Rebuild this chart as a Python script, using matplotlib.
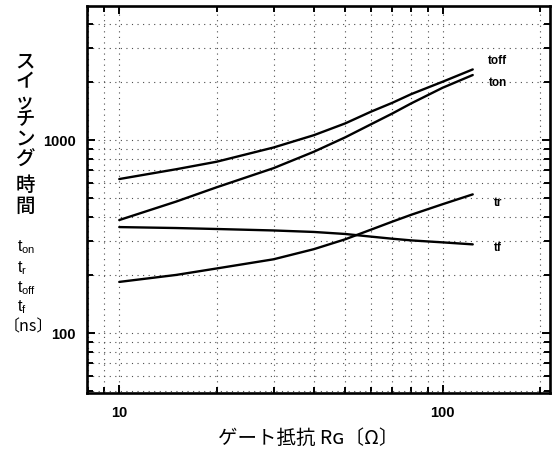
import numpy as np
import matplotlib
matplotlib.use("Agg")
import matplotlib.pyplot as plt
from matplotlib.ticker import LogLocator, FixedLocator, NullFormatter, FixedFormatter

plt.rcParams['font.family'] = ['Liberation Sans', 'Noto Sans CJK JP', 'DejaVu Sans']
plt.rcParams['mathtext.fontset'] = 'custom'
plt.rcParams['mathtext.rm'] = 'Liberation Sans'

# Data (gate resistance in ohm, times in ns)
rg = [10, 15, 20, 30, 40, 50, 60, 70, 80, 100, 124]
t_off = [628, 706, 772, 915, 1060, 1220, 1402, 1561, 1730, 2005, 2323]
t_on = [385, 480, 569, 715, 870, 1033, 1206, 1374, 1549, 1866, 2173]
t_r = [184, 200, 216, 241, 272, 306, 343, 378, 410, 465, 523]
t_f = [354, 350, 346, 340, 334, 326, 316, 308, 302, 295, 288]

series_names = ["toff", "ton", "tr", "tf"]
label_pos_x = 148
label_pos_y = [2576, 1967, 470, 275]

x_ticks = [10, 100]
x_ticklabels = ["10", "100"]
y_ticks = [100, 1000]
y_ticklabels = ["100", "1000"]

fig = plt.figure(figsize=(5.53, 4.54), dpi=100)
ax = fig.add_axes([86.7/553, 1-393.3/454, (550-86.7)/553, (393.3-5.7)/454])

for ys in (t_off, t_on, t_r, t_f):
    ax.plot(rg, ys, color='black', lw=1.7, solid_capstyle='round', solid_joinstyle='round')

ax.set_xscale('log')
ax.set_yscale('log')
ax.set_xlim(7.93, 215)
ax.set_ylim(48.7, 4970)

ax.xaxis.set_major_locator(FixedLocator(x_ticks))
ax.xaxis.set_major_formatter(FixedFormatter(x_ticklabels))
ax.xaxis.set_minor_locator(LogLocator(base=10, subs=np.arange(2, 10)))
ax.xaxis.set_minor_formatter(NullFormatter())
ax.yaxis.set_major_locator(FixedLocator(y_ticks))
ax.yaxis.set_major_formatter(FixedFormatter(y_ticklabels))
ax.yaxis.set_minor_locator(LogLocator(base=10, subs=np.arange(2, 10)))
ax.yaxis.set_minor_formatter(NullFormatter())

ax.grid(True, which='both', linestyle=(0, (1, 4)), color='0.3', linewidth=0.8)
ax.tick_params(which='both', direction='in', top=True, right=True, width=1.4, color='black')
ax.tick_params(which='major', length=6)
ax.tick_params(which='minor', length=4.5)
ax.tick_params(axis='x', which='major', labelsize=10.5, pad=9)
ax.tick_params(axis='y', which='major', labelsize=10.5, pad=8)
for lab in ax.get_xticklabels() + ax.get_yticklabels():
    lab.set_fontweight('bold')
for sp in ax.spines.values():
    sp.set_linewidth(1.9)

for name, yv in zip(series_names, label_pos_y):
    ax.text(label_pos_x, yv, name, fontsize=8.5, fontweight='bold', ha='center', va='center')

# stacked vertical y label
jp_chars = ["ス", "イ", "ッ", "チ", "ン", "グ", "時", "間"]
jp_y = [61.7, 81.7, 101.7, 120, 140, 160, 185, 206.7]
cjk = ['Noto Sans CJK JP', 'DejaVu Sans']
for ch, yp in zip(jp_chars, jp_y):
    fig.text(25/553, 1-yp/454, ch, fontsize=14, family=cjk, fontweight='medium', ha='center', va='center')

sym = [r"t$_{\mathregular{on}}$", r"t$_{\mathregular{r}}$", r"t$_{\mathregular{off}}$", r"t$_{\mathregular{f}}$"]
sym_y = [247, 268, 288, 307]
for s, yp in zip(sym, sym_y):
    fig.text(17/553, 1-yp/454, s, fontsize=11.5, ha='left', va='center')
fig.text(28/553, 1-327/454, "〔ns〕", fontsize=11.5, family=cjk, ha='center', va='center')

fig.text(308/553, 1-438/454, "ゲート抵抗 R\u0262〔Ω〕", fontsize=14, family=cjk, ha='center', va='center')

fig.savefig("out.png", dpi=100)
